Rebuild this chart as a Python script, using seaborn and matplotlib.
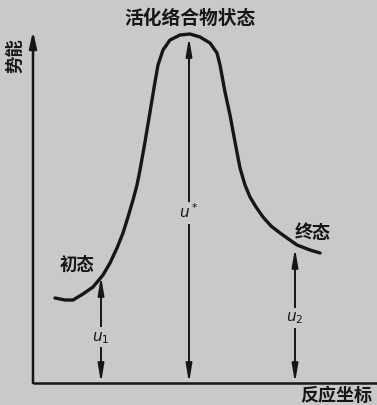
import matplotlib
matplotlib.use("Agg")
import matplotlib.pyplot as plt
import seaborn as sns
import pandas as pd

sns.set_theme(style="white")
plt.rcParams['font.family'] = ['Noto Sans CJK SC', 'DejaVu Sans']

# curve: reaction coordinate vs potential energy
reaction_coord = [22, 32, 40, 50, 60, 70, 77, 84, 90, 95, 100, 104, 107, 112, 117,
                  122, 125, 130, 137, 147, 157, 167, 177, 184, 187, 192, 197, 202,
                  207, 212, 217, 223, 230, 238, 247, 264, 277, 287]
potential_energy = [85, 83, 83, 89, 96, 108, 120, 135, 150, 166, 183, 198, 213, 241,
                    271, 301, 318, 333, 343, 348, 349, 346, 340, 330, 318, 291, 268,
                    241, 215, 198, 186, 176, 166, 157, 150, 138, 133, 130]

# energy arrows: position and height
arrow_names = ["u1", "u*", "u2"]
arrow_x = [68, 156, 262]
arrow_top = [107, 346, 135]
arrow_label_y = [46, 170, 65]
arrow_labels = [r"$u_1$", r"$u^*$", r"$u_2$"]

state_labels = ["活化络合物状态", "初态", "终态"]
axis_labels = ["势能", "反应坐标"]

bg = "#c9c9c7"
ink = "#161616"

fig = plt.figure(figsize=(3.77, 4.05), dpi=100, facecolor=bg)
ax = fig.add_axes([0, 0, 1, 1], facecolor=bg)
ax.set_xlim(-33, 344)
ax.set_ylim(-22, 383)
ax.axis("off")

df = pd.DataFrame({"x": reaction_coord, "y": potential_energy})
sns.lineplot(data=df, x="x", y="y", sort=False, color=ink, linewidth=2.4, ax=ax)
for ln in ax.lines:
    ln.set_solid_joinstyle("round")
    ln.set_solid_capstyle("round")

# axes with arrows
ax.plot([0, 344], [0, 0], color=ink, lw=1.8, solid_capstyle="butt")
ax.annotate("", xy=(0, 352), xytext=(0, 0),
            arrowprops=dict(arrowstyle="-|>,head_length=0.8,head_width=0.18",
                            color=ink, lw=1.8, shrinkA=0, shrinkB=0))

# energy double arrows
for x, top, ly, lab in zip(arrow_x, arrow_top, arrow_label_y, arrow_labels):
    ax.annotate("", xy=(x, top), xytext=(x, 0),
                arrowprops=dict(arrowstyle="<|-|>,head_length=0.9,head_width=0.15",
                                color=ink, lw=1.4, shrinkA=0, shrinkB=0))
    ax.text(x, ly, lab, ha="center", va="center", fontsize=11, color=ink,
            bbox=dict(facecolor=bg, edgecolor="none", pad=1.0))

ax.text(157, 365, state_labels[0], ha="center", va="center", fontsize=13.5,
        fontweight="bold", color=ink)
ax.text(44, 118, state_labels[1], ha="center", va="center", fontsize=12.5,
        fontweight="bold", color=ink)
ax.text(280, 151, state_labels[2], ha="center", va="center", fontsize=13,
        fontweight="bold", color=ink)

ax.text(-18, 327, axis_labels[0], ha="center", va="center", rotation=90,
        fontsize=12.5, fontweight="bold", color=ink)
ax.text(267, -12, axis_labels[1], ha="left", va="center", fontsize=13,
        fontweight="bold", color=ink)

fig.savefig("out.png", dpi=100, facecolor=bg)
